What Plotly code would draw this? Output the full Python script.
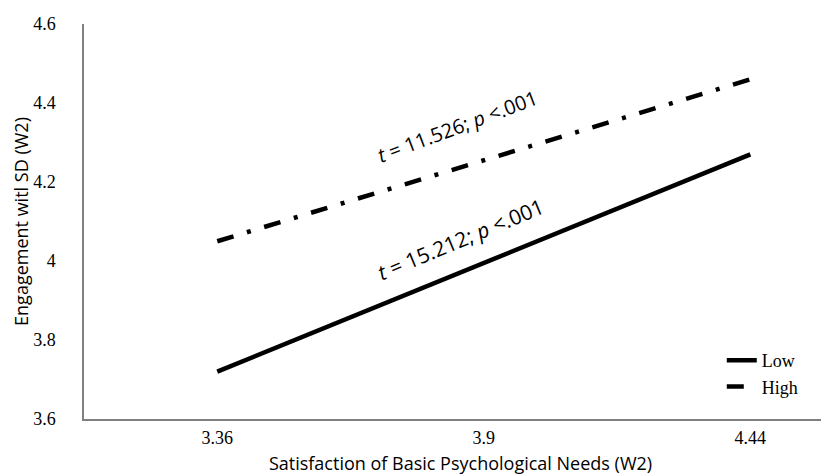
import plotly.graph_objects as go

categories = ["3.36", "3.9", "4.44"]
low_values = [3.72, 3.995, 4.27]
high_values = [4.05, 4.255, 4.46]
y_ticks = [3.6, 3.8, 4.0, 4.2, 4.4, 4.6]
y_tick_text = ["3.6", "3.8", "4", "4.2", "4.4", "4.6"]
x_idx = [0, 1, 2]

fig = go.Figure()
fig.add_trace(go.Scatter(x=x_idx, y=low_values, mode="lines", name="Low",
                         line=dict(color="black", width=4.5)))
fig.add_trace(go.Scatter(x=x_idx, y=high_values, mode="lines", name="High",
                         line=dict(color="black", width=4.5, dash="17px,14px,4px,14px")))

sans = "Open Sans"
serif = "Times New Roman, Liberation Serif, serif"

fig.add_annotation(x=0.9, y=4.34, text="<i>t</i> = 11.526; <i>p</i> <.001", showarrow=False,
                   textangle=-20.5, font=dict(family=sans, size=20, color="black"))
fig.add_annotation(x=0.915, y=4.055, text="<i>t</i> = 15.212; <i>p</i> <.001", showarrow=False,
                   textangle=-22.6, font=dict(family=sans, size=21, color="black"))

fig.update_layout(
    width=829, height=476,
    margin=dict(l=76, r=0, t=16, b=65),
    font=dict(family=serif, size=18, color="black"),
    plot_bgcolor="white", paper_bgcolor="white",
    showlegend=True,
    legend=dict(x=0.847, y=0.195, xanchor="left", yanchor="top",
                font=dict(family=serif, size=18, color="black"),
                bgcolor="rgba(0,0,0,0)", tracegroupgap=0, itemwidth=30),
)
fig.update_xaxes(range=[-0.5, 2.325], tickvals=x_idx, ticktext=categories,
                 showgrid=False, zeroline=False, showline=True, linecolor="#808080", linewidth=1.5,
                 ticks="outside", ticklen=2, tickcolor="white",
                 tickfont=dict(family=serif, size=18, color="black"),
                 title_text="Satisfaction of Basic Psychological Needs (W2)",
                 title_font=dict(family=sans, size=18, color="black"), title_standoff=10)
fig.update_yaxes(range=[3.6, 4.6], tickvals=y_ticks, ticktext=y_tick_text,
                 showgrid=False, zeroline=False, showline=True, linecolor="#808080", linewidth=1.5,
                 ticks="outside", ticklen=23, tickcolor="white",
                 tickfont=dict(family=serif, size=18, color="black"),
                 title_text="Engagement witl SD (W2)",
                 title_font=dict(family=sans, size=18, color="black"), title_standoff=0)

fig.write_html("out.html")
